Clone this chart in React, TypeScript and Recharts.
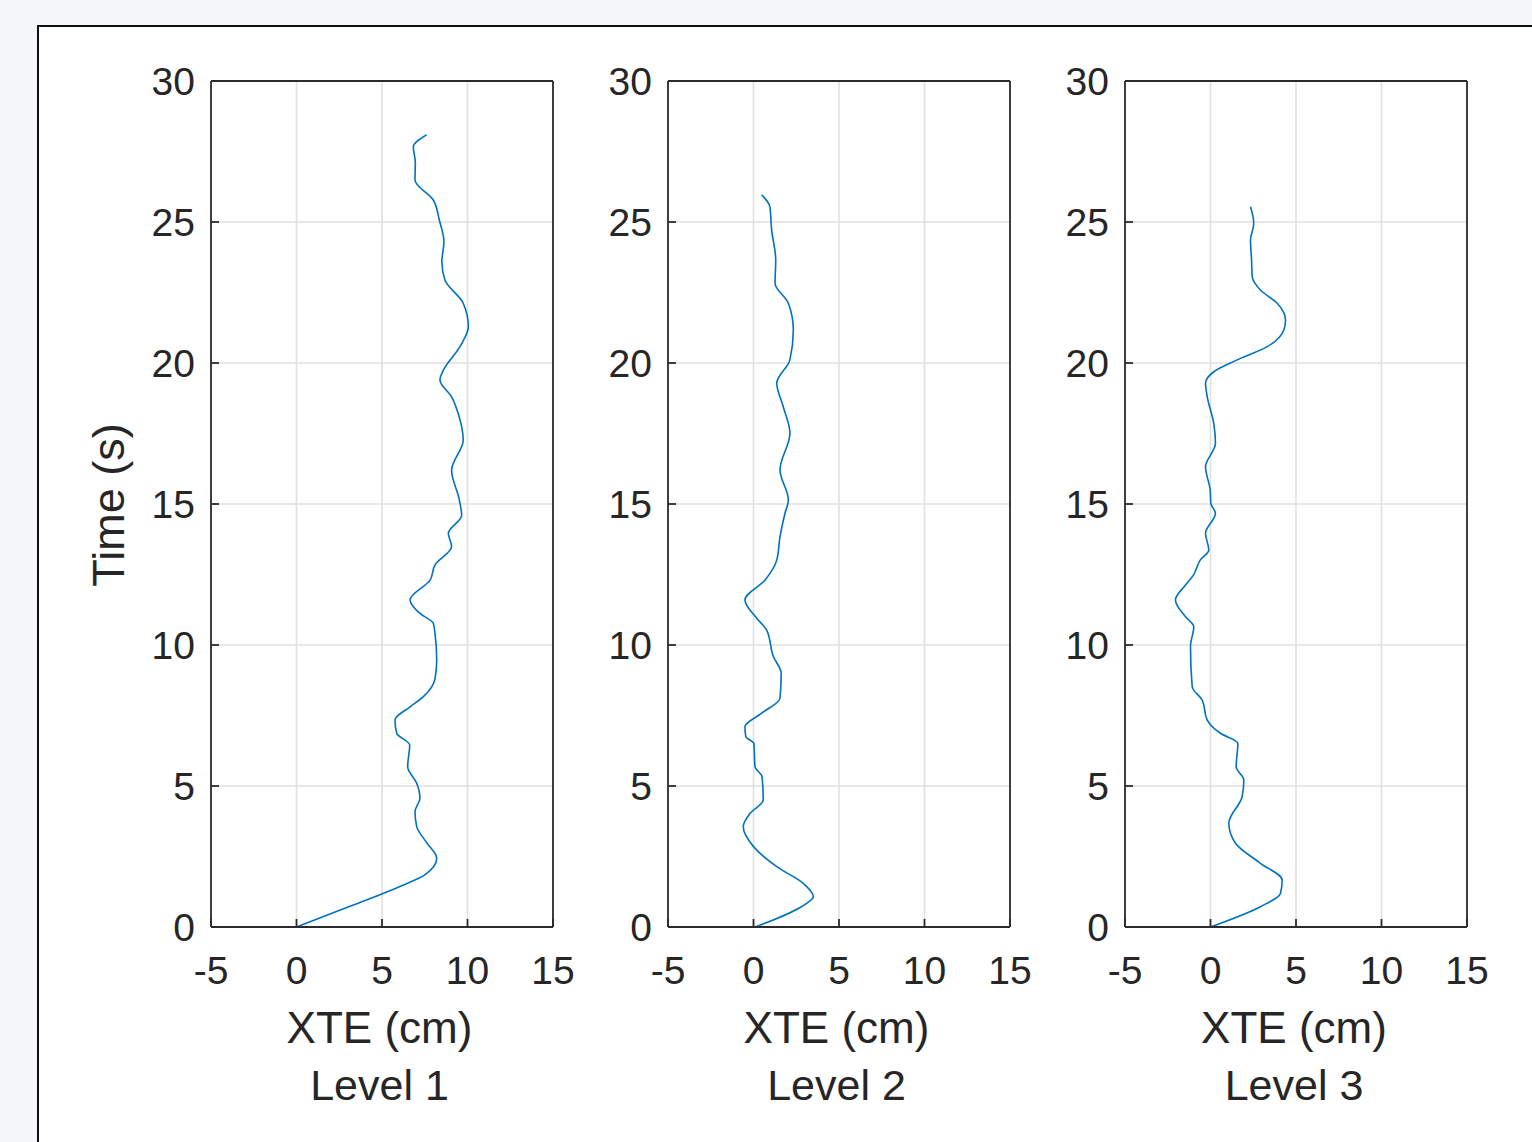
import React from 'react';
import { LineChart, Line, XAxis, YAxis, CartesianGrid } from 'recharts';

const X_TICKS = [-5, 0, 5, 10, 15];
const Y_TICKS = [0, 5, 10, 15, 20, 25, 30];
const LEVELS = ['Level 1', 'Level 2', 'Level 3'];
const X_LABEL = 'XTE (cm)';
const Y_LABEL = 'Time (s)';

const level1 = [
  { t: 0, x: 0 }, { t: 0.75, x: 3.2 }, { t: 1.5, x: 6.3 }, { t: 1.85, x: 7.5 },
  { t: 2.44, x: 8.2 }, { t: 3.0, x: 7.6 }, { t: 3.56, x: 7.03 }, { t: 4.09, x: 6.93 },
  { t: 4.57, x: 7.22 }, { t: 5.1, x: 7.03 }, { t: 5.68, x: 6.5 }, { t: 6.45, x: 6.62 },
  { t: 6.87, x: 5.86 }, { t: 7.34, x: 5.76 }, { t: 7.81, x: 6.64 }, { t: 8.17, x: 7.42 },
  { t: 8.8, x: 8.1 }, { t: 9.47, x: 8.2 }, { t: 10.4, x: 8.1 }, { t: 10.77, x: 8.0 },
  { t: 11.12, x: 7.22 }, { t: 11.6, x: 6.64 }, { t: 12.3, x: 7.81 }, { t: 12.84, x: 8.1 },
  { t: 13.49, x: 9.07 }, { t: 13.96, x: 8.88 }, { t: 14.6, x: 9.66 }, { t: 15.2, x: 9.5 },
  { t: 16.2, x: 9.07 }, { t: 17.27, x: 9.75 }, { t: 18.2, x: 9.46 }, { t: 18.8, x: 9.07 },
  { t: 19.4, x: 8.39 }, { t: 19.75, x: 8.59 }, { t: 20.58, x: 9.56 }, { t: 21.29, x: 10.05 },
  { t: 22.12, x: 9.75 }, { t: 22.94, x: 8.68 }, { t: 23.6, x: 8.5 }, { t: 24.3, x: 8.62 },
  { t: 25.07, x: 8.35 }, { t: 25.78, x: 8.0 }, { t: 26.49, x: 6.93 }, { t: 27.1, x: 6.95 },
  { t: 27.67, x: 6.83 }, { t: 28.09, x: 7.61 },
];

const level2 = [
  { t: 0, x: 0.1 }, { t: 0.84, x: 3.1 }, { t: 1.07, x: 3.5 }, { t: 1.55, x: 2.91 },
  { t: 2.14, x: 1.36 }, { t: 2.85, x: 0 }, { t: 3.56, x: -0.6 }, { t: 4.03, x: -0.2 },
  { t: 4.5, x: 0.57 }, { t: 5.33, x: 0.5 }, { t: 5.68, x: 0.09 }, { t: 6.51, x: 0.02 },
  { t: 6.75, x: -0.45 }, { t: 7.1, x: -0.5 }, { t: 7.58, x: 0.48 }, { t: 8.11, x: 1.55 },
  { t: 9.0, x: 1.62 }, { t: 9.59, x: 1.16 }, { t: 10.53, x: 0.77 }, { t: 10.95, x: 0.19 },
  { t: 11.6, x: -0.5 }, { t: 12.3, x: 0.67 }, { t: 13.01, x: 1.36 }, { t: 13.84, x: 1.55 },
  { t: 14.67, x: 1.84 }, { t: 15.14, x: 2.04 }, { t: 16.21, x: 1.55 }, { t: 17.51, x: 2.13 },
  { t: 18.45, x: 1.74 }, { t: 19.28, x: 1.36 }, { t: 20.11, x: 2.13 }, { t: 21.17, x: 2.33 },
  { t: 22.12, x: 2.04 }, { t: 22.83, x: 1.26 }, { t: 23.65, x: 1.3 }, { t: 24.72, x: 1.06 },
  { t: 25.54, x: 0.96 }, { t: 25.96, x: 0.48 },
];

const level3 = [
  { t: 0, x: 0 }, { t: 0.72, x: 2.92 }, { t: 1.19, x: 4.09 }, { t: 1.67, x: 4.19 },
  { t: 2.26, x: 2.92 }, { t: 2.97, x: 1.46 }, { t: 3.68, x: 1.07 }, { t: 4.62, x: 1.85 },
  { t: 5.21, x: 1.95 }, { t: 5.68, x: 1.5 }, { t: 6.51, x: 1.6 }, { t: 6.87, x: 0.58 },
  { t: 7.34, x: -0.19 }, { t: 8.05, x: -0.49 }, { t: 8.52, x: -1.07 }, { t: 9.94, x: -1.17 },
  { t: 10.65, x: -0.98 }, { t: 11.0, x: -1.46 }, { t: 11.6, x: -2.05 }, { t: 12.1, x: -1.5 },
  { t: 12.48, x: -1.0 }, { t: 13.01, x: -0.6 }, { t: 13.37, x: -0.1 }, { t: 13.96, x: -0.29 },
  { t: 14.67, x: 0.29 }, { t: 15.02, x: 0.02 }, { t: 15.5, x: -0.02 }, { t: 16.32, x: -0.29 },
  { t: 17.15, x: 0.29 }, { t: 17.86, x: 0.19 }, { t: 18.8, x: -0.19 }, { t: 19.28, x: -0.29 },
  { t: 19.69, x: 0.19 }, { t: 20.11, x: 1.56 }, { t: 20.58, x: 3.32 }, { t: 21.17, x: 4.29 },
  { t: 21.52, x: 4.39 }, { t: 22.12, x: 3.9 }, { t: 22.59, x: 2.92 }, { t: 23.06, x: 2.44 },
  { t: 23.65, x: 2.4 }, { t: 24.36, x: 2.34 }, { t: 24.95, x: 2.53 }, { t: 25.54, x: 2.34 },
];

const SERIES = [level1, level2, level3];
const PLOT_LEFTS = [210.5, 667.5, 1125];
const PLOT_W = 342;
const PLOT_TOP = 81;
const PLOT_H = 846;
const LEFT_W = 120;
const TOP_SPACE = 30;
const RIGHT_SPACE = 40;
const BOTTOM_H = 80;
const FONT = '"Liberation Sans", Arial, Helvetica, sans-serif';
const INK = '#262626';
const AXIS = '#2b2b2b';

function Panel({ data, left }: { data: { t: number; x: number }[]; left: number }) {
  const axisLine = { stroke: AXIS, strokeWidth: 1.8 };
  const tickLine = { stroke: AXIS, strokeWidth: 1.8 };
  const tickStyle = { fontSize: 39, fill: INK, fontFamily: FONT };
  return (
    <div style={{ position: 'absolute', left: left - LEFT_W, top: PLOT_TOP - TOP_SPACE }}>
      <LineChart
        width={LEFT_W + PLOT_W + 1 + RIGHT_SPACE}
        height={TOP_SPACE + PLOT_H + BOTTOM_H}
        data={data}
        layout="vertical"
        margin={{ top: TOP_SPACE - 1, right: RIGHT_SPACE, bottom: 0, left: 0 }}
      >
        <CartesianGrid xAxisId="b" yAxisId="l" stroke="#e0e0e0" strokeWidth={1.6} />
        <XAxis
          xAxisId="b"
          type="number"
          domain={[-5, 15]}
          ticks={X_TICKS}
          interval={0}
          allowDataOverflow
          orientation="bottom"
          height={BOTTOM_H}
          tickSize={-8}
          tickMargin={37}
          tick={tickStyle}
          axisLine={axisLine}
          tickLine={tickLine}
        />
        <XAxis
          xAxisId="t"
          type="number"
          domain={[-5, 15]}
          ticks={X_TICKS}
          interval={0}
          allowDataOverflow
          orientation="top"
          height={1}
          tickSize={-8}
          tick={false}
          axisLine={axisLine}
          tickLine={tickLine}
        />
        <YAxis
          yAxisId="l"
          type="number"
          dataKey="t"
          domain={[0, 30]}
          ticks={Y_TICKS}
          interval={0}
          reversed
          allowDataOverflow
          width={LEFT_W}
          tickSize={-8}
          tickMargin={24}
          tick={tickStyle}
          axisLine={axisLine}
          tickLine={tickLine}
        />
        <YAxis
          yAxisId="r"
          type="number"
          orientation="right"
          domain={[0, 30]}
          ticks={Y_TICKS}
          interval={0}
          reversed
          allowDataOverflow
          width={1}
          tickSize={-8}
          tick={false}
          axisLine={axisLine}
          tickLine={tickLine}
        />
        <Line
          xAxisId="b"
          yAxisId="l"
          dataKey="x"
          type="monotone"
          stroke="#0072bd"
          strokeWidth={1.6}
          dot={false}
          isAnimationActive={false}
        />
      </LineChart>
    </div>
  );
}

export default function App() {
  return (
    <div
      style={{
        position: 'absolute',
        left: 0,
        top: 0,
        width: 1532,
        height: 1142,
        background: '#f5f7fb',
        overflow: 'hidden',
        fontFamily: FONT,
      }}
    >
      <div
        style={{
          position: 'absolute',
          left: 37,
          top: 25,
          width: 1600,
          height: 1300,
          background: '#ffffff',
          border: '2.5px solid #111111',
        }}
      />
      {SERIES.map((d, i) => (
        <Panel key={i} data={d} left={PLOT_LEFTS[i]} />
      ))}
      <svg
        width={1532}
        height={1142}
        style={{ position: 'absolute', left: 0, top: 0, pointerEvents: 'none' }}
      >
        {LEVELS.map((lv, i) => {
          const cx = PLOT_LEFTS[i] + PLOT_W / 2 - 2;
          return (
            <g key={lv}>
              <text x={cx} y={1043} textAnchor="middle" fontSize={44} fill={INK} fontFamily={FONT}>
                {X_LABEL}
              </text>
              <text x={cx} y={1100} textAnchor="middle" fontSize={43} fill={INK} fontFamily={FONT}>
                {lv}
              </text>
            </g>
          );
        })}
        <text
          x={0}
          y={0}
          transform="translate(124 505) rotate(-90)"
          textAnchor="middle"
          fontSize={45}
          fill={INK}
          fontFamily={FONT}
        >
          {Y_LABEL}
        </text>
      </svg>
    </div>
  );
}
